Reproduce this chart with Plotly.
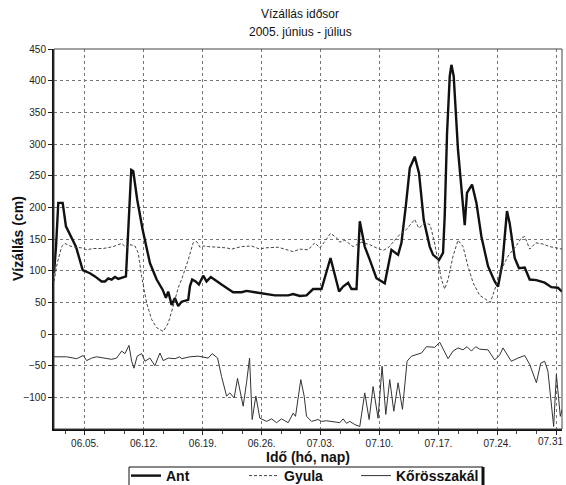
import pandas as pd
import plotly.graph_objects as go

# ---- data (days since 2005-06-01 00:00, water level in cm) ----
ant_days = [0.32, 0.56, 0.83, 1.35, 1.74, 2.42, 2.93, 3.73, 4.59, 5.19, 5.98, 6.38, 6.77, 7.17,
            7.56, 7.96, 8.36, 8.87, 9.5, 9.74, 10.21, 10.85, 11.72, 12.52, 13.23, 13.62, 13.89,
            14.3, 14.69, 15.08, 15.48, 16.27, 16.47, 16.74, 17.15, 17.54, 18.05, 18.45, 18.96,
            19.44, 20.23, 21.02, 21.61, 22.61, 23.2, 24.19, 25.38, 26.57, 28.15, 28.74, 29.53,
            30.33, 31.11, 32.11, 33.18, 34.2, 34.68, 35.27, 35.67, 36.27, 36.66, 37.25, 37.85,
            38.64, 39.63, 40.42, 41.21, 41.61, 42.12, 42.6, 43.19, 43.7, 44.26, 44.97, 45.37,
            46.08, 46.55, 46.75, 47.03, 47.35, 47.55, 47.82, 48.33, 48.81, 49.13, 49.4, 50.0,
            50.52, 51.11, 51.9, 52.69, 53.09, 53.61, 54.15, 54.47, 55.07, 55.58, 56.26, 56.85,
            57.65, 58.63, 59.43, 60.21, 60.69]
ant_vals = [96, 138, 207, 207, 170, 152, 138, 101, 96, 91, 83, 83, 88, 86,
            90, 87, 89, 91, 259, 257, 212, 165, 112, 86, 70, 57, 67,
            46, 57, 44, 51, 54, 75, 86, 83, 78, 92, 83, 90,
            85, 78, 71, 66, 66, 68, 66, 64, 61, 61, 63, 60,
            61, 71, 71, 120, 67, 75, 81, 71, 71, 178, 138, 117,
            88, 80, 133, 125, 144, 201, 262, 280, 254, 180, 138, 125,
            117, 128, 186, 317, 407, 425, 407, 291, 217, 172, 223, 236,
            207, 154, 107, 83, 75, 112, 194, 175, 120, 104, 105, 86,
            85, 81, 74, 73, 67]

gyula_days = [0.32, 0.71, 1.23, 1.62, 2.22, 2.81, 3.61, 4.2, 4.99, 6.17, 7.36, 8.36, 8.95, 9.34,
              9.94, 10.33, 10.73, 11.33, 11.92, 12.52, 13.3, 13.89, 14.49, 15.08, 15.48, 16.27,
              16.86, 17.27, 17.66, 18.05, 18.64, 19.83, 20.83, 21.42, 22.02, 22.61, 23.8, 24.78,
              25.38, 26.96, 27.75, 28.74, 29.53, 30.13, 30.52, 31.32, 31.91, 32.5, 33.18, 33.89,
              34.28, 34.88, 35.86, 36.86, 37.85, 38.64, 39.43, 40.02, 40.82, 41.41, 42.2, 42.8,
              43.19, 43.67, 44.38, 44.97, 45.17, 45.57, 45.96, 46.36, 46.75, 47.15, 47.74, 48.33,
              48.93, 49.52, 50.12, 50.91, 51.71, 52.18, 52.69, 53.49, 54.27, 55.19, 55.87, 56.26,
              56.85, 57.57, 58.43, 59.23, 60.02, 60.69]
gyula_vals = [83, 112, 138, 143, 139, 137, 136, 133, 135, 135, 138, 143, 136, 141,
              139, 128, 91, 49, 23, 10, 4, 17, 44, 73, 86, 117,
              144, 146, 137, 139, 138, 137, 136, 134, 136, 138, 139, 134,
              136, 137, 134, 130, 134, 133, 133, 144, 136, 146, 159, 152,
              145, 148, 138, 145, 141, 136, 132, 136, 149, 157, 165, 175,
              181, 167, 175, 173, 165, 142, 112, 86, 71, 86, 123, 148,
              138, 107, 81, 61, 54, 50, 70, 102, 123, 138, 152, 154,
              134, 144, 142, 138, 136, 134]

korosszakal_days = [0.32, 1.83, 3.01, 3.8, 4.2, 4.8, 5.39, 6.17, 7.17, 7.76, 8.36, 8.75, 9.23, 9.55,
                    9.82, 10.21, 10.73, 11.13, 11.72, 12.31, 12.91, 13.3, 13.89, 14.69, 15.28, 15.48,
                    16.47, 17.46, 18.64, 19.12, 19.76, 20.23, 20.83, 21.22, 21.73, 22.13, 22.61, 22.8,
                    23.2, 23.56, 23.87, 24.31, 24.78, 25.58, 26.17, 26.77, 27.36, 28.15, 28.74, 29.02,
                    29.65, 30.05, 30.33, 30.92, 31.71, 32.11, 32.7, 33.49, 34.28, 34.68, 35.08, 35.47,
                    36.07, 36.66, 37.25, 37.77, 38.24, 38.83, 39.31, 39.75, 40.22, 40.7, 41.21, 41.73,
                    42.28, 42.8, 43.39, 43.99, 44.58, 45.17, 45.57, 46.16, 46.64, 47.15, 47.74, 48.33,
                    48.93, 49.4, 49.92, 50.44, 50.91, 51.9, 52.69, 53.29, 53.68, 54.67, 55.46, 56.26,
                    56.85, 57.65, 58.16, 58.63, 59.02, 59.43, 59.7, 60.02, 60.29, 60.49, 60.69]
korosszakal_vals = [-36, -36, -39, -34, -42, -38, -36, -38, -40, -38, -27, -31, -18, -43,
                    -54, -35, -31, -43, -38, -50, -30, -42, -38, -39, -36, -39,
                    -36, -35, -38, -31, -38, -67, -98, -93, -101, -70, -98, -114,
                    -77, -38, -135, -98, -133, -138, -134, -140, -134, -140, -125, -130,
                    -72, -98, -130, -138, -135, -138, -137, -139, -140, -134, -141, -138,
                    -143, -146, -93, -135, -83, -133, -51, -127, -72, -122, -77, -119,
                    -43, -35, -33, -30, -20, -20, -21, -13, -25, -39, -27, -22,
                    -25, -20, -27, -20, -24, -25, -41, -33, -22, -43, -38, -34,
                    -48, -77, -46, -43, -59, -109, -146, -64, -98, -130, -119]

tick_dates = ["2005-06-05", "2005-06-12", "2005-06-19", "2005-06-26", "2005-07-03",
              "2005-07-10", "2005-07-17", "2005-07-24", "2005-07-31"]
tick_labels = ["06.05.", "06.12.", "06.19.", "06.26.", "07.03.",
               "07.10.", "07.17.", "07.24.", ""]
last_tick_label = "07.31"
y_ticks = [-100, -50, 0, 50, 100, 150, 200, 250, 300, 350, 400, 450]

title_lines = ["Vízállás idősor", "2005. június - július"]
x_title = "<b>Idő (hó, nap)</b>"
y_title = "<b>Vízállás (cm)</b>"

start = pd.Timestamp("2005-06-01")


def to_dates(days):
    return [start + pd.Timedelta(days=d) for d in days]


fig = go.Figure()
fig.add_trace(go.Scatter(x=to_dates(ant_days), y=ant_vals, name="Ant", mode="lines",
                         line=dict(color="#111111", width=2.4), legend="legend"))
fig.add_trace(go.Scatter(x=to_dates(gyula_days), y=gyula_vals, name="Gyula", mode="lines",
                         line=dict(color="#444444", width=1, dash="3px,2px"), legend="legend2"))
fig.add_trace(go.Scatter(x=to_dates(korosszakal_days), y=korosszakal_vals, name="Kőrösszakál",
                         mode="lines", line=dict(color="#333333", width=1), legend="legend3"))

base_family = "Liberation Sans, Arial"
tick_family = "Liberation Sans Narrow, Arial Narrow, Liberation Sans, Arial"
font_tick = dict(family=tick_family, size=10, color="#222")
legend_font = dict(size=14, family=base_family, color="#111", weight="bold")


def legend_at(px):
    return dict(orientation="h", x=px / 566, xanchor="left", xref="container",
                y=1 - 460 / 485, yanchor="top", yref="container",
                borderwidth=0, bgcolor="rgba(0,0,0,0)", font=legend_font, itemwidth=30)


fig.update_layout(
    width=566, height=485,
    margin=dict(l=54, r=4, t=49, b=56),
    paper_bgcolor="white", plot_bgcolor="white",
    font=dict(family=base_family, color="#111"),
    showlegend=True,
    legend=legend_at(126),
    legend2=legend_at(244),
    legend3=legend_at(356),
    xaxis=dict(
        type="date", automargin=False,
        range=[start + pd.Timedelta(days=0.32), start + pd.Timedelta(days=60.69)],
        tickmode="array", tickvals=tick_dates, ticktext=tick_labels,
        tickfont=font_tick, ticks="outside", ticklen=4, tickcolor="#222",
        showgrid=True, gridcolor="#777", griddash="3px,3px", gridwidth=1,
        showline=True, linecolor="#111", linewidth=2, zeroline=False,
        minor=dict(tick0="2005-06-05", dtick=7 * 86400000 / 3, ticks="outside",
                   ticklen=3, tickcolor="#444", showgrid=False),
    ),
    yaxis=dict(
        range=[-150, 450], tickmode="array", automargin=False, tickvals=y_ticks,
        tickfont=font_tick, ticks="outside", ticklen=4, tickcolor="#222",
        showgrid=True, gridcolor="#777", griddash="3px,3px", gridwidth=1,
        showline=True, linecolor="#111", linewidth=2, zeroline=False,
    ),
)

# chart title (two lines)
fig.add_annotation(text=title_lines[0], xref="paper", yref="paper",
                   x=(300 - 54) / 508, y=1, yshift=35, showarrow=False,
                   xanchor="center", yanchor="middle",
                   font=dict(size=12, family=base_family, color="#111"))
fig.add_annotation(text=title_lines[1], xref="paper", yref="paper",
                   x=(300 - 54) / 508, y=1, yshift=17, showarrow=False,
                   xanchor="center", yanchor="middle",
                   font=dict(size=12, family=base_family, color="#111"))

# last x tick label, nudged left so it stays inside the page
fig.add_annotation(text=last_tick_label, xref="x", yref="paper",
                   x=tick_dates[-1], xshift=-6, y=0, yshift=-12, showarrow=False,
                   xanchor="center", yanchor="middle", font=font_tick)

# axis titles
fig.add_annotation(text=x_title, xref="paper", yref="paper",
                   x=(308 - 54) / 508, y=0, yshift=-28, showarrow=False,
                   xanchor="center", yanchor="middle",
                   font=dict(size=14, family=base_family, color="#111"))
fig.add_annotation(text=y_title, xref="paper", yref="paper",
                   x=0, xshift=-36, y=0.5, showarrow=False, textangle=-90,
                   xanchor="center", yanchor="middle",
                   font=dict(size=14, family=base_family, color="#111"))

# thin frame on top/right of the plotting area
fig.add_shape(type="rect", xref="paper", yref="paper", x0=0, y0=0, x1=1, y1=1,
              line=dict(color="#444", width=1), layer="above")


# legend frame (runs off the bottom of the page, as in the original)
def px_x(px):
    return (px - 54) / 508


def px_y(py):
    return (429 - py) / 380


fig.add_shape(type="rect", xref="paper", yref="paper",
              x0=px_x(129), x1=px_x(483), y0=px_y(495), y1=px_y(467),
              line=dict(color="#111", width=1), fillcolor="rgba(0,0,0,0)", layer="below")
fig.add_shape(type="line", xref="paper", yref="paper",
              x0=px_x(483), x1=px_x(483), y0=px_y(495), y1=px_y(467),
              line=dict(color="#111", width=3), layer="above")

fig.write_html("out.html", config={"displayModeBar": False},
               post_script="document.body.style.margin='0';")
